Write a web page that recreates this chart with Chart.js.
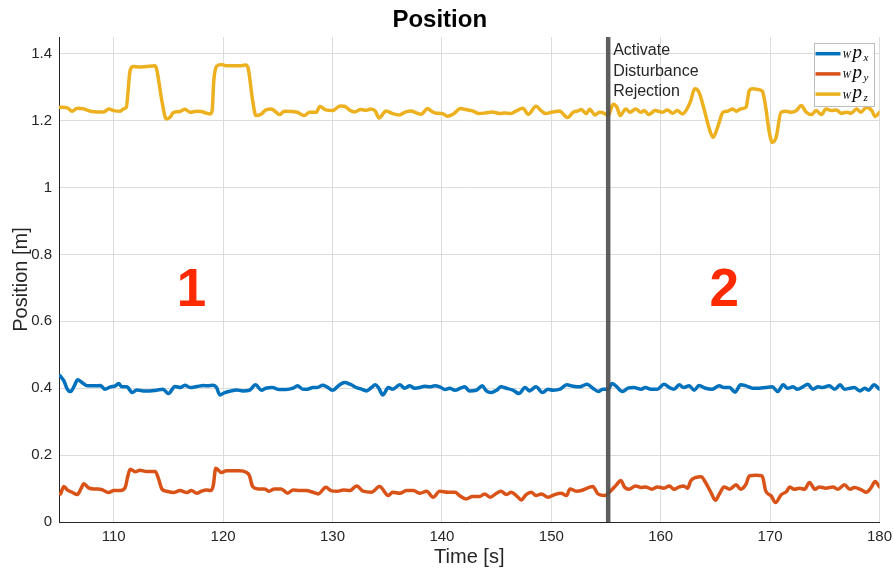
<!DOCTYPE html>
<html>
<head>
<meta charset="utf-8">
<title>Position</title>
<script src="https://cdn.jsdelivr.net/npm/chart.js@4/dist/chart.umd.min.js"></script>
<style>
  html, body { margin: 0; padding: 0; background: #ffffff; }
  #wrap { width: 894px; height: 572px; }
</style>
</head>
<body>
<div id="wrap"><canvas id="chart" width="894" height="572"></canvas></div>
<script>
// Axis limits and tick positions
const timeMin = 105;
const timeMax = 180;
const posMin = 0;
const posMax = 1.45;
const timeTicks = [110, 120, 130, 140, 150, 160, 170, 180];
const posTicks = [0, 0.2, 0.4, 0.6, 0.8, 1.0, 1.2, 1.4];

// Moment the disturbance rejection is switched on [s]
const switchTime = 155.2;

// Phase labels (text, time, position)
const phaseNames = ['1', '2'];
const phaseTimes = [117.1, 165.8];
const phasePos = [0.69, 0.69];

// Series: W p_x
const timeX = [105.1,105.45,105.76,106.06,106.4,106.7,107.1,107.6,108.2,108.8,109.2,109.7,110.15,110.45,110.75,111.2,111.7,112.1,112.7,113.3,113.9,114.5,115.0,115.6,116.1,116.5,117.0,117.6,118.2,118.6,119.1,119.4,119.7,120.15,120.75,121.2,121.8,122.4,122.97,123.5,123.9,124.5,125.15,125.75,126.4,126.8,127.3,127.7,128.2,128.6,129.1,129.5,130.0,130.6,131.1,131.6,132.2,132.65,133.1,133.56,133.9,134.2,134.6,135.1,135.5,136.15,136.6,137.06,137.5,138.0,138.4,138.9,139.35,139.8,140.3,140.7,141.2,141.7,142.1,142.5,143.15,143.7,144.06,144.5,145.0,145.4,145.9,146.5,147.05,147.6,148.0,148.6,149.2,149.7,150.15,150.8,151.4,152.0,152.6,153.26,153.8,154.3,154.7,155.2,155.55,155.9,156.5,157.0,157.55,158.2,158.6,159.1,159.7,160.3,160.8,161.2,161.7,162.1,162.6,163.06,163.5,164.1,164.7,165.35,165.8,166.3,166.8,167.3,167.8,168.4,169.0,169.6,170.2,170.7,171.2,171.6,172.1,172.5,173.0,173.45,173.9,174.4,174.8,175.4,175.9,176.4,176.8,177.3,177.7,178.2,178.65,179.0,179.5,180.0];
const posX = [0.437,0.422,0.397,0.390,0.407,0.425,0.417,0.407,0.407,0.408,0.397,0.404,0.407,0.414,0.404,0.404,0.387,0.395,0.392,0.392,0.394,0.397,0.384,0.405,0.402,0.409,0.402,0.405,0.408,0.407,0.409,0.402,0.380,0.387,0.392,0.395,0.392,0.394,0.410,0.394,0.400,0.402,0.396,0.396,0.400,0.407,0.397,0.397,0.402,0.402,0.409,0.404,0.394,0.409,0.417,0.412,0.402,0.397,0.392,0.402,0.410,0.402,0.380,0.402,0.397,0.410,0.400,0.407,0.400,0.402,0.406,0.404,0.407,0.404,0.396,0.400,0.394,0.400,0.404,0.392,0.394,0.407,0.392,0.387,0.394,0.404,0.400,0.394,0.384,0.402,0.392,0.404,0.387,0.397,0.394,0.397,0.410,0.406,0.404,0.412,0.400,0.390,0.397,0.397,0.414,0.407,0.390,0.400,0.402,0.397,0.402,0.397,0.397,0.412,0.402,0.397,0.410,0.402,0.407,0.394,0.408,0.400,0.397,0.407,0.402,0.402,0.388,0.410,0.407,0.400,0.400,0.402,0.404,0.390,0.410,0.400,0.404,0.397,0.404,0.412,0.397,0.404,0.402,0.407,0.397,0.410,0.397,0.400,0.402,0.392,0.400,0.394,0.410,0.397];

// Series: W p_y
const timeY = [105.15,105.45,105.76,106.2,106.67,107.0,107.27,107.7,108.2,108.6,109.1,109.55,110.0,110.6,111.06,111.27,111.5,111.97,112.4,113.0,113.8,114.1,114.4,114.85,115.45,116.06,116.7,117.1,117.6,118.0,118.5,118.85,119.1,119.33,119.85,120.3,120.9,121.5,122.1,122.4,122.7,123.2,123.8,124.2,124.7,125.3,125.9,126.4,127.0,127.6,128.2,128.7,129.4,129.85,130.45,131.0,131.6,132.2,132.8,133.56,134.3,135.1,135.5,136.15,136.76,137.4,138.0,138.6,139.2,139.8,140.56,141.2,141.6,142.2,142.8,143.45,143.9,144.4,145.0,145.4,145.9,146.35,146.8,147.26,147.7,148.17,148.6,149.1,149.7,150.3,150.9,151.4,151.7,152.3,152.74,153.35,153.8,154.26,154.9,155.3,155.95,156.35,156.7,157.1,157.7,158.2,158.6,159.2,159.7,160.3,160.8,161.2,161.7,162.1,162.45,162.75,163.2,163.7,164.1,164.6,165.0,165.35,165.8,166.3,166.9,167.3,167.8,168.1,168.7,169.27,169.6,170.1,170.5,171.0,171.5,171.8,172.2,172.7,173.15,173.6,174.1,174.5,175.1,175.75,176.2,176.8,177.3,177.7,178.35,178.8,179.2,179.6,180.0];
const posY = [0.084,0.106,0.096,0.089,0.082,0.099,0.114,0.102,0.099,0.099,0.094,0.088,0.094,0.094,0.104,0.134,0.158,0.150,0.155,0.151,0.151,0.129,0.099,0.092,0.088,0.094,0.088,0.094,0.086,0.092,0.096,0.094,0.109,0.161,0.148,0.153,0.153,0.153,0.149,0.139,0.106,0.099,0.099,0.092,0.099,0.099,0.086,0.096,0.094,0.094,0.089,0.084,0.104,0.094,0.092,0.096,0.094,0.108,0.092,0.089,0.106,0.079,0.089,0.086,0.094,0.094,0.086,0.092,0.074,0.092,0.089,0.089,0.079,0.069,0.076,0.076,0.084,0.074,0.086,0.092,0.082,0.089,0.079,0.066,0.082,0.089,0.079,0.084,0.074,0.082,0.086,0.079,0.099,0.092,0.094,0.102,0.106,0.084,0.079,0.089,0.111,0.124,0.104,0.098,0.108,0.103,0.105,0.098,0.105,0.101,0.108,0.098,0.105,0.108,0.101,0.123,0.133,0.135,0.118,0.088,0.065,0.083,0.105,0.098,0.111,0.098,0.113,0.138,0.140,0.138,0.093,0.078,0.058,0.081,0.091,0.105,0.098,0.101,0.098,0.118,0.098,0.105,0.101,0.105,0.098,0.111,0.098,0.103,0.096,0.089,0.101,0.121,0.105];

// Series: W p_z
const timeZ = [105.1,105.76,106.2,106.67,107.27,107.88,108.64,109.09,109.55,110.0,110.6,110.9,111.15,111.5,111.8,112.4,113.0,113.8,113.95,114.4,114.8,115.15,115.45,116.06,116.5,117.0,117.6,118.0,118.5,118.85,119.0,119.15,119.4,119.85,120.3,120.9,121.5,122.06,122.3,122.7,123.0,123.5,123.9,124.4,124.85,125.15,125.6,126.4,126.8,127.4,127.9,128.5,128.85,129.4,130.0,130.7,131.1,131.5,132.0,132.6,133.1,133.5,133.9,134.25,134.9,135.5,136.1,136.7,137.2,137.6,138.1,138.7,139.0,139.4,140.06,140.5,141.1,141.7,142.2,142.8,143.4,144.0,144.6,145.3,145.7,146.3,146.8,147.4,147.9,148.6,149.1,149.5,150.0,150.8,151.1,151.5,152.0,152.45,152.75,153.2,153.5,154.0,154.4,154.9,155.2,155.65,156.0,156.3,156.8,157.2,157.7,158.2,158.5,158.9,159.5,160.15,160.6,161.1,161.5,162.0,162.4,162.75,163.1,163.5,164.0,164.4,164.8,165.2,165.7,166.1,166.6,166.9,167.3,167.8,168.1,168.4,169.05,169.3,169.6,169.9,170.2,170.55,171.0,171.5,171.9,172.4,172.85,173.3,173.8,174.2,174.7,175.1,175.6,176.05,176.5,177.0,177.4,177.9,178.3,178.8,179.3,179.6,180.0];
const posZ = [1.240,1.238,1.228,1.237,1.235,1.228,1.226,1.226,1.235,1.230,1.228,1.235,1.240,1.350,1.362,1.360,1.362,1.364,1.350,1.260,1.205,1.210,1.224,1.227,1.234,1.225,1.228,1.227,1.222,1.220,1.230,1.320,1.362,1.368,1.364,1.364,1.364,1.366,1.355,1.260,1.215,1.220,1.232,1.235,1.225,1.218,1.228,1.227,1.225,1.215,1.225,1.225,1.242,1.232,1.230,1.244,1.243,1.233,1.226,1.233,1.231,1.235,1.229,1.208,1.229,1.221,1.217,1.226,1.229,1.224,1.219,1.236,1.229,1.223,1.221,1.213,1.221,1.236,1.233,1.229,1.221,1.223,1.226,1.221,1.223,1.221,1.229,1.237,1.219,1.243,1.229,1.221,1.225,1.229,1.219,1.209,1.225,1.229,1.233,1.221,1.234,1.217,1.225,1.221,1.215,1.249,1.240,1.215,1.235,1.225,1.235,1.225,1.230,1.218,1.230,1.225,1.232,1.222,1.230,1.220,1.235,1.260,1.295,1.285,1.230,1.180,1.150,1.180,1.225,1.228,1.235,1.228,1.235,1.240,1.290,1.295,1.292,1.288,1.240,1.170,1.135,1.150,1.225,1.228,1.225,1.230,1.245,1.225,1.218,1.230,1.218,1.235,1.230,1.232,1.222,1.225,1.222,1.235,1.225,1.240,1.230,1.212,1.225];

const seriesColors = ['#0072BD', '#D95319', '#EDB120'];
const seriesSubs = ['x', 'y', 'z'];

const FONT = "'Liberation Sans', Arial, Helvetica, sans-serif";
const MATH = "'Liberation Serif', 'Times New Roman', serif";
const AXIS_COLOR = '#262626';

function toPoints(ts, vs) { return ts.map((t, i) => ({ x: t, y: vs[i] })); }

function lineSet(label, pts, color) {
  return {
    label: label,
    data: pts,
    borderColor: color,
    backgroundColor: color,
    borderWidth: 3.5,
    pointRadius: 0,
    cubicInterpolationMode: 'monotone',
    borderCapStyle: 'round',
    borderJoinStyle: 'round',
    fill: false,
    order: 1
  };
}

// Annotation texts, phase numbers and the legend
const overlayPlugin = {
  id: 'overlay',
  afterDatasetsDraw(chart) {
    const { ctx, chartArea, scales } = chart;
    const xs = scales.x, ys = scales.y;
    ctx.save();

    // note next to the switch line
    const lx = xs.getPixelForValue(switchTime) + 5;
    ctx.fillStyle = AXIS_COLOR;
    ctx.font = '16px ' + FONT;
    ctx.textAlign = 'left';
    ctx.textBaseline = 'alphabetic';
    ['Activate', 'Disturbance', 'Rejection'].forEach((s, i) => {
      ctx.fillText(s, lx, chartArea.top + 18 + i * 20.6);
    });

    // phase numbers
    ctx.fillStyle = '#ff2a00';
    ctx.font = 'bold 53px ' + FONT;
    ctx.textAlign = 'center';
    ctx.textBaseline = 'middle';
    phaseNames.forEach((s, i) => {
      ctx.fillText(s, xs.getPixelForValue(phaseTimes[i]), ys.getPixelForValue(phasePos[i]));
    });

    // legend box
    const bw = 60, bh = 63;
    const bx = chartArea.right - 6 - bw;
    const by = chartArea.top + 6;
    ctx.fillStyle = '#ffffff';
    ctx.fillRect(bx, by, bw, bh);
    ctx.strokeStyle = '#bdbdbd';
    ctx.lineWidth = 1;
    ctx.strokeRect(Math.round(bx) + 0.5, Math.round(by) + 0.5, bw, bh);
    ctx.textAlign = 'left';
    ctx.textBaseline = 'alphabetic';
    seriesColors.forEach((c, i) => {
      const ry = by + 10.7 + i * 20.2;
      ctx.strokeStyle = c;
      ctx.lineWidth = 3.5;
      ctx.beginPath();
      ctx.moveTo(bx + 2, ry);
      ctx.lineTo(bx + 27, ry);
      ctx.stroke();
      ctx.fillStyle = '#000000';
      ctx.font = 'italic 10px ' + MATH;
      ctx.fillText('W', bx + 29, ry + 4.5);
      ctx.font = 'italic 19px ' + MATH;
      ctx.fillText('p', bx + 39, ry + 4);
      ctx.font = 'italic 11px ' + MATH;
      ctx.fillText(seriesSubs[i], bx + 50, ry + 7);
    });
    ctx.restore();
  }
};

const ctxEl = document.getElementById('chart');
new Chart(ctxEl, {
  type: 'line',
  data: {
    datasets: [
      {
        label: 'switch',
        data: [{ x: switchTime, y: posMin }, { x: switchTime, y: posMax }],
        borderColor: 'rgba(80,80,80,0.92)',
        borderWidth: 4.5,
        pointRadius: 0,
        tension: 0,
        order: 0
      },
      lineSet('W p_x', toPoints(timeX, posX), seriesColors[0]),
      lineSet('W p_y', toPoints(timeY, posY), seriesColors[1]),
      lineSet('W p_z', toPoints(timeZ, posZ), seriesColors[2])
    ]
  },
  options: {
    responsive: false,
    animation: false,
    devicePixelRatio: 1,
    layout: { padding: { left: 0, right: 14.5, top: 0, bottom: 0 } },
    plugins: {
      legend: { display: false },
      tooltip: { enabled: false },
      title: {
        display: true,
        text: 'Position',
        color: '#000000',
        font: { family: FONT, size: 24, weight: 'bold', lineHeight: 1.2 },
        padding: { top: 6, bottom: 2.2 }
      }
    },
    scales: {
      x: {
        type: 'linear',
        min: timeMin,
        max: timeMax,
        afterBuildTicks: (s) => { s.ticks = timeTicks.map(v => ({ value: v })); },
        afterFit: (s) => { s.height = 50; s.paddingLeft = 0; s.paddingRight = 0; },
        grid: { color: '#dcdcdc', lineWidth: 1, drawTicks: false },
        border: { display: true, color: AXIS_COLOR, width: 1 },
        ticks: {
          color: AXIS_COLOR,
          font: { family: FONT, size: 15 },
          padding: 6,
          maxRotation: 0,
          callback: (v) => String(v)
        },
        title: {
          display: true,
          text: 'Time [s]',
          color: AXIS_COLOR,
          font: { family: FONT, size: 20, lineHeight: 1.2 },
          padding: { top: 0, bottom: 3 }
        }
      },
      y: {
        type: 'linear',
        min: posMin,
        max: posMax,
        afterBuildTicks: (s) => { s.ticks = posTicks.map(v => ({ value: v })); },
        afterFit: (s) => { s.width = 59; s.paddingTop = 0; s.paddingBottom = 0; },
        grid: { color: '#dcdcdc', lineWidth: 1, drawTicks: false },
        border: { display: true, color: AXIS_COLOR, width: 1 },
        ticks: {
          color: AXIS_COLOR,
          font: { family: FONT, size: 15 },
          padding: 7,
          callback: (v) => String(Number(v.toFixed(1)))
        },
        title: {
          display: true,
          text: 'Position [m]',
          color: AXIS_COLOR,
          font: { family: FONT, size: 20, lineHeight: 1.2 },
          padding: { top: 9, bottom: 0 }
        }
      }
    }
  },
  plugins: [overlayPlugin]
});
</script>
</body>
</html>
